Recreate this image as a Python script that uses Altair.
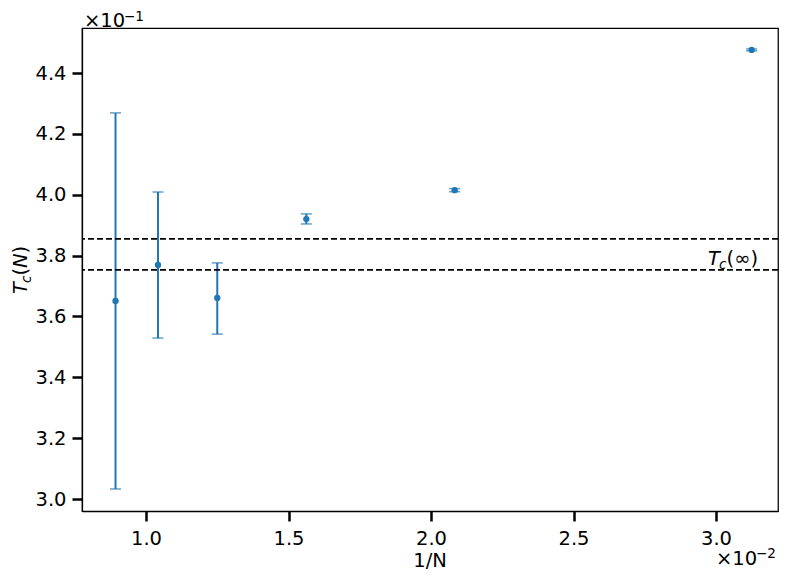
import altair as alt
import pandas as pd

# 1/N in units of 1e-2, Tc(N) in units of 1e-1
inv_N = [0.893, 1.042, 1.250, 1.5625, 2.083, 3.125]
Tc = [3.651, 3.769, 3.661, 3.920, 4.015, 4.476]
Tc_low = [3.033, 3.529, 3.542, 3.904, 4.010, 4.473]
Tc_high = [4.269, 4.009, 3.776, 3.937, 4.020, 4.479]
Tc_inf_bounds = [3.855, 3.753]

x_ticks = [1.0, 1.5, 2.0, 2.5, 3.0]
y_ticks = [3.0, 3.2, 3.4, 3.6, 3.8, 4.0, 4.2, 4.4]

df = pd.DataFrame({"x": inv_N, "y": Tc, "lo": Tc_low, "hi": Tc_high})
df_lines = pd.DataFrame({"y": Tc_inf_bounds})

BLUE = "#1f77b4"
FONT = "DejaVu Sans"
FS = 19.5
SUB = 13.5

xscale = alt.Scale(domain=[0.7754, 3.2175], nice=False, zero=False)
yscale = alt.Scale(domain=[2.9606, 4.548], nice=False, zero=False)

xax = alt.Axis(values=x_ticks, format=".1f", title=None, grid=False,
               tickSize=10, tickWidth=2.5, tickColor="black", domainColor="black",
               labelFont=FONT, labelFontSize=FS, labelColor="black", labelPadding=8)
yax = alt.Axis(values=y_ticks, format=".1f", title=None, grid=False,
               tickSize=10, tickWidth=2.5, tickColor="black", domainColor="black",
               labelFont=FONT, labelFontSize=FS, labelColor="black", labelPadding=6)

base = alt.Chart(df)

bars = base.mark_rule(color=BLUE, strokeWidth=2).encode(
    x=alt.X("x:Q", scale=xscale, axis=xax),
    y=alt.Y("lo:Q", scale=yscale, axis=yax),
    y2="hi:Q",
)
cap_lo = base.mark_tick(color=BLUE, orient="horizontal", size=11, thickness=1.5).encode(
    x=alt.X("x:Q", scale=xscale), y=alt.Y("lo:Q", scale=yscale))
cap_hi = base.mark_tick(color=BLUE, orient="horizontal", size=11, thickness=1.5).encode(
    x=alt.X("x:Q", scale=xscale), y=alt.Y("hi:Q", scale=yscale))
pts = base.mark_circle(color=BLUE, size=40, opacity=1).encode(
    x=alt.X("x:Q", scale=xscale), y=alt.Y("y:Q", scale=yscale))

lines = alt.Chart(df_lines).mark_rule(color="black", strokeWidth=1.75, strokeDash=[6, 3]).encode(
    y=alt.Y("y:Q", scale=yscale))

def txt(text, x, y, size=FS, italic=False, angle=0, dx=0, dy=0, align="left"):
    kw = dict(text=text, font=FONT, fontSize=size, color="black", align=align,
              baseline="alphabetic", dx=dx, dy=dy)
    if italic:
        kw["fontStyle"] = "italic"
    if angle:
        kw["angle"] = angle
    return alt.Chart(pd.DataFrame({"a": [0]})).mark_text(**kw).encode(x=x, y=y)

lab_x = alt.datum(2.972, type="quantitative", scale=xscale)
lab_y = alt.datum(3.769, type="quantitative", scale=yscale)
label = (txt("T", lab_x, lab_y, italic=True)
         + txt("c", lab_x, lab_y, size=SUB, italic=True, dx=11, dy=4)
         + txt("(∞)", lab_x, lab_y, dx=18.5))

# y axis title (rotated pieces)
yx, yy = alt.value(-55), alt.value(266)
ytitle = (txt("T", yx, yy, italic=True, angle=270)
          + txt("c", yx, yy, size=SUB, italic=True, angle=270, dx=11, dy=4)
          + txt("(", yx, yy, angle=270, dx=18.5)
          + txt("N", yx, yy, italic=True, angle=270, dx=26)
          + txt(")", yx, yy, angle=270, dx=40.5))

xtitle = txt("1/N", alt.value(348), alt.value(539), align="center")

off_top = (txt("×10", alt.value(2), alt.value(-1.5))
           + txt("−1", alt.value(42), alt.value(-7), size=SUB))
off_bot = (txt("×10", alt.value(634), alt.value(537))
           + txt("−2", alt.value(674), alt.value(530), size=SUB))

chart = alt.layer(bars, cap_lo, cap_hi, pts, lines, label, ytitle, xtitle, off_top, off_bot).properties(
    width=696, height=483,
    autosize=alt.AutoSizeParams(type="none"),
    padding={"left": 74, "top": 20, "right": 1, "bottom": 62},
).configure_view(stroke="black", strokeWidth=1.25).configure_axis(domainWidth=1.25)

chart.save("out.html", embed_options={"renderer": "svg", "actions": False})
